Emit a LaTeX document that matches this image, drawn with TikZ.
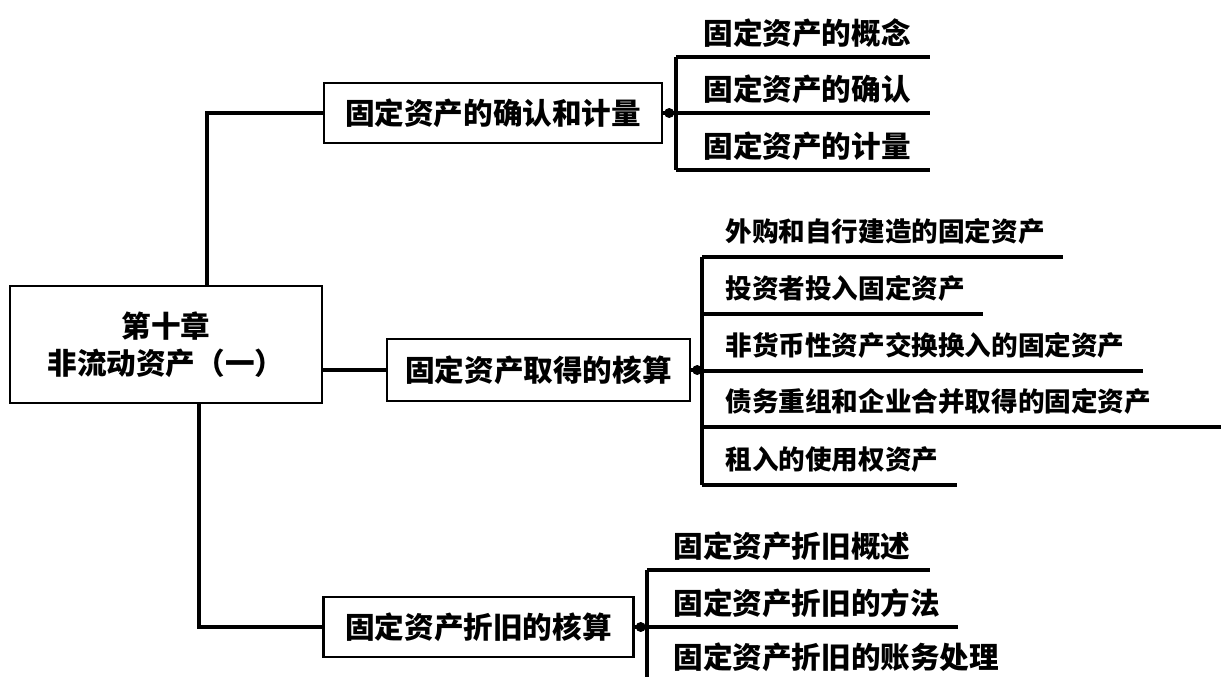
\documentclass[tikz,border=0pt]{standalone}
\usepackage{fontspec}
\setmainfont{Noto Sans CJK SC}
\usetikzlibrary{positioning}
\tikzset{
  topic/.style={draw,line width=1.2pt,inner sep=0pt,font=\bfseries\fontsize{14.8}{18.5}\selectfont},
  leaf/.style={anchor=west,inner sep=0pt,font=\bfseries\fontsize{14.8}{18}\selectfont},
  leafsmall/.style={leaf,font=\bfseries\fontsize{13.3}{16}\selectfont},
  branch/.style={line width=1.6pt},
  knot/.style={circle,fill,inner sep=0pt,minimum size=5pt}
}

\begin{document}
\begin{tikzpicture}[x=0.5pt,y=-0.5pt]
        \useasboundingbox (0,0) rectangle (1221,677);
        \node[topic,align=center,minimum width=156pt,minimum height=58.5pt] (chapter) at (166,344.5) {第十章\\非流动资产（一）};
        \node[topic,minimum width=169pt,minimum height=30pt] (recog) at (493,113) {固定资产的确认和计量};
        \node[topic,minimum width=151.5pt,minimum height=31pt] (acquire) at (538.5,370) {固定资产取得的核算};
        \node[topic,minimum width=155pt,minimum height=30pt] (deprec) at (478.5,627) {固定资产折旧的核算};
        \draw[branch] ([xshift=20.5pt]chapter.north) |- (recog.west);
        \draw[branch] (chapter.east |- acquire.west) -- (acquire.west);
        \draw[branch] ([xshift=16.5pt]chapter.south) |- (deprec.west);
        % 确认和计量
        \coordinate (rtop) at (676,57);
        \coordinate (rbot) at (676,170);
        \draw[branch] (rtop) -- (rbot);
        \draw[branch] (recog.east) -- (recog.east -| rtop);
        \node[knot] (rknot) at ([xshift=3pt]recog.east) {};
        \foreach \n/\y/\e/\t in {1/57/930/固定资产的概念,2/113/930/固定资产的确认,3/170/930/固定资产的计量}{
          \node[leaf] (r\n) at (703,\y-24) {\t};
          \draw[branch] (676,\y) -- (\e,\y);
        }
        % 取得
        \coordinate (atop) at (702,257);
        \coordinate (abot) at (702,485);
        \draw[branch] (atop) -- (abot);
        \draw[branch] (acquire.east) -- (acquire.east -| atop);
        \node[knot] (aknot) at ([xshift=3pt]acquire.east) {};
        \foreach \n/\y/\e/\t in {1/257/1063/外购和自行建造的固定资产,2/314/983/投资者投入固定资产,3/371/1143/非货币性资产交换换入的固定资产,4/427/1221/债务重组和企业合并取得的固定资产,5/485/957/租入的使用权资产}{
          \node[leafsmall] (a\n) at (725,\y-26) {\t};
          \draw[branch] (702,\y) -- (\e,\y);
        }
        % 折旧
        \coordinate (dtop) at (647,570);
        \coordinate (dbot) at (647,677);
        \draw[branch] (dtop) -- (dbot);
        \draw[branch] (deprec.east) -- (deprec.east -| dtop);
        \node[knot] (dknot) at ([xshift=3pt]deprec.east) {};
        \foreach \n/\y/\e/\t in {1/570/930/固定资产折旧概述,2/627/958/固定资产折旧的方法}{
          \node[leaf] (d\n) at (673,\y-24) {\t};
          \draw[branch] (647,\y) -- (\e,\y);
        }
        \node[leaf] (d3) at (673,657) {固定资产折旧的账务处理};
      \end{tikzpicture}
\end{document}
